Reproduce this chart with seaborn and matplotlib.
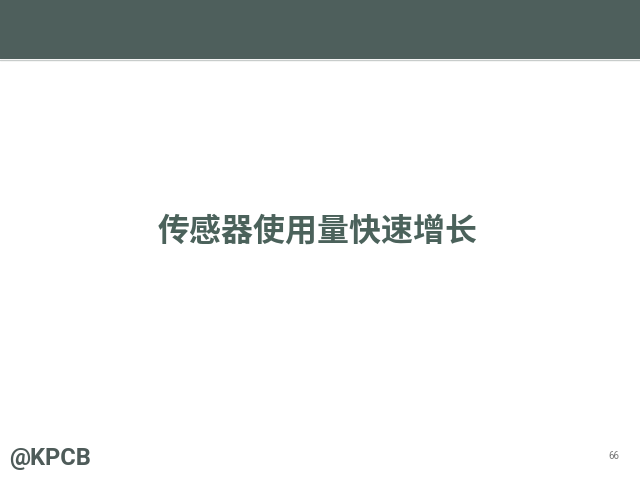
import matplotlib
matplotlib.use("Agg")
import matplotlib.pyplot as plt
import seaborn as sns
from matplotlib.patches import Rectangle

title_text = "传感器使用量快速增长"
logo_text = "@KPCB"
page_number = "66"

sns.set_theme(style="white")
plt.rcParams['font.family'] = ['Noto Sans CJK SC', 'DejaVu Sans']

fig = plt.figure(figsize=(6.40, 4.81), dpi=100)
fig.patch.set_facecolor("white")
ax = fig.add_axes([0, 0, 1, 1])
ax.set_axis_off()
ax.set_xlim(0, 640)
ax.set_ylim(481, 0)

# header band
ax.add_patch(Rectangle((0, 0), 640, 60, facecolor="#4e5f5c", edgecolor="none"))
ax.plot([0, 640], [60.5, 60.5], color="#c8cccb", lw=1)

ax.text(318, 231, title_text, ha="center", va="center", fontsize=23,
        fontweight="semibold", color="#4b625b")
ax.text(9, 459, logo_text, ha="left", va="center", fontsize=17,
        fontweight="bold", color="#4e5b59",
        family=["Roboto", "DejaVu Sans"])
ax.text(619, 456, page_number, ha="right", va="center", fontsize=7,
        color="#777777", family=["Roboto", "DejaVu Sans"])

fig.savefig("out.png", dpi=100, facecolor="white")
